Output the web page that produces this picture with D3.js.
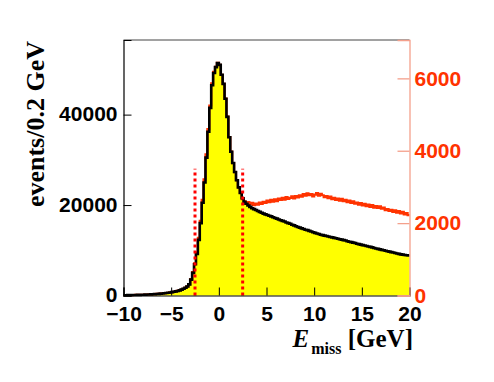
<!DOCTYPE html>
<html>
<head>
<meta charset="utf-8">
<script src="https://cdn.jsdelivr.net/npm/d3@7"></script>
<style>
  body { margin: 0; background: #fff; }
  .tick text { font-family: "Liberation Sans", Arial, sans-serif; font-weight: bold; font-size: 21px; }
  .ttl { font-family: "Liberation Serif", "Times New Roman", serif; font-weight: bold; }
</style>
</head>
<body>
<div id="chart"></div>
<script>
// histogram binning: 150 bins of 0.2 GeV from -10 to 20
var xMin = -10, binWidth = 0.2;

// black histogram (left axis, events/0.2 GeV)
var allEvents = [
  60, 70, 80, 90, 100, 110, 120, 130, 140, 150,
  170, 190, 210, 230, 250, 280, 310, 340, 370, 410,
  450, 500, 550, 610, 670,
  740, 820, 910, 1010, 1130,
  1300, 1480, 1700, 2000, 2450,
  3500, 5000, 6900, 9200, 12300,
  16000, 20500, 25000, 30500, 36200,
  41500, 46500, 49200, 50500, 51400,
  51000, 48800, 46800, 43500, 39500,
  35000, 31800, 29300, 27300, 25500,
  23900, 22700, 21500, 20700, 20300,
  19900, 19600, 19300, 19100, 18900,
  18700, 18500, 18300, 18100, 17950,
  17800, 17650, 17500, 17300, 17150, 17000, 16800, 16650, 16500, 16350,
  16150, 16000, 15850, 15650, 15500, 15300, 15150, 15000, 14850, 14700,
  14550, 14450, 14300, 14150, 14000, 13850, 13700, 13600, 13450, 13350,
  13250, 13150, 13050, 12950, 12850, 12750, 12650, 12550, 12450, 12350,
  12250, 12150, 12000, 11900, 11800, 11700, 11600, 11450, 11350, 11250,
  11150, 11050, 10950, 10850, 10750, 10650, 10500, 10400, 10300, 10200,
  10100, 10000, 9900, 9800, 9700, 9600, 9500, 9400, 9300, 9200,
  9100, 9050, 8950, 8900, 8850
];

// red histogram (right axis)
var selEvents = [
  8, 9, 10, 11, 13, 14, 15, 16, 18, 19,
  21, 24, 26, 29, 31, 35, 39, 43, 46, 51,
  56, 63, 69, 76, 84,
  93, 103, 114, 126, 141,
  163, 185, 213, 250, 306,
  450, 650, 890, 1190, 1590,
  2060, 2640, 3210, 3900, 4600,
  5250, 5860, 6180, 6320, 6430,
  6375, 6100, 5850, 5440, 4940,
  4375, 3975, 3660, 3410, 3190,
  2990, 2840, 2660, 2600, 2540,
  2580, 2520, 2560, 2500, 2540,
  2510, 2570, 2530, 2590, 2560,
  2620, 2580, 2640, 2590, 2660,
  2610, 2680, 2640, 2700, 2650,
  2720, 2670, 2700, 2740, 2680,
  2750, 2710, 2770, 2730, 2800,
  2760, 2820, 2770, 2800, 2740,
  2790, 2830, 2760, 2810, 2770,
  2720, 2750, 2690, 2730, 2660,
  2700, 2640, 2680, 2620, 2670,
  2610, 2640, 2580, 2620, 2560,
  2600, 2540, 2570, 2510, 2550,
  2490, 2530, 2470, 2510, 2450,
  2500, 2430, 2470, 2420, 2460,
  2400, 2430, 2360, 2390, 2340,
  2370, 2310, 2350, 2290, 2330,
  2270, 2310, 2240, 2280, 2220
];

var xTicks = [-10, -5, 0, 5, 10, 15, 20];
var yLeftTicks = [0, 20000, 40000];
var yRightTicks = [0, 2000, 4000, 6000];
var cutValues = [-2.5, 2.5];
var cutHeight = 3500; // right-axis units

var width = 494, height = 382;
var svg = d3.select("#chart").append("svg").attr("width", width).attr("height", height);

var x = d3.scaleLinear().domain([-10, 20]).range([123.5, 409.5]);
var yL = d3.scaleLinear().domain([0, 56500]).range([295.5, 40]);
var yR = d3.scaleLinear().domain([0, 7060]).range([295.5, 40]);

function steps(vals) {
  var pts = vals.map(function(v, i) { return [xMin + i * binWidth, v]; });
  pts.push([xMin + vals.length * binWidth, vals[vals.length - 1]]);
  return pts;
}

var blackPts = steps(allEvents), redPts = steps(selEvents);

// yellow fill
svg.append("path")
  .datum(blackPts)
  .attr("fill", "#ffff00")
  .attr("d", d3.area().curve(d3.curveStepAfter)
    .x(function(d) { return x(d[0]); })
    .y0(yL(0))
    .y1(function(d) { return yL(d[1]); }));

// red histogram
svg.append("path")
  .datum(redPts)
  .attr("fill", "none")
  .attr("stroke", "#ff3300")
  .attr("stroke-width", 2.2)
  .attr("d", d3.line().curve(d3.curveStepAfter)
    .x(function(d) { return x(d[0]); })
    .y(function(d) { return yR(d[1]); }));

// black histogram
svg.append("path")
  .datum(blackPts)
  .attr("fill", "none")
  .attr("stroke", "#000")
  .attr("stroke-width", 2.6)
  .attr("d", d3.line().curve(d3.curveStepAfter)
    .x(function(d) { return x(d[0]); })
    .y(function(d) { return yL(d[1]); }));

// cut lines
svg.selectAll(".cut")
  .data(cutValues)
  .enter()
  .append("line")
  .attr("class", "cut")
  .attr("x1", function(d) { return x(d); })
  .attr("x2", function(d) { return x(d); })
  .attr("y1", yR(0))
  .attr("y2", yR(cutHeight))
  .attr("stroke", "#ff0000")
  .attr("stroke-width", 3)
  .attr("stroke-dasharray", "3,3");

// frame top
svg.append("line")
  .attr("x1", x(-10)).attr("x2", x(20))
  .attr("y1", 40).attr("y2", 40)
  .attr("stroke", "#444").attr("stroke-width", 1);

// bottom axis
var gx = svg.append("g").attr("transform", "translate(0," + yL(0) + ")");
gx.call(d3.axisBottom(x).tickValues(d3.range(-10, 21, 1)).tickSize(-4).tickFormat(""));
gx.call(d3.axisBottom(x).tickValues(xTicks).tickSize(-8).tickPadding(11).tickFormat(d3.format("d")));
gx.selectAll("path.domain").attr("stroke", "#000").attr("stroke-width", 1.2);
gx.selectAll("text").attr("fill", "#000");

// left axis
var gy = svg.append("g").attr("transform", "translate(" + x(-10) + ",0)");
gy.call(d3.axisLeft(yL).tickValues(d3.range(0, 56001, 5000)).tickSize(-4.5).tickFormat(""));
gy.call(d3.axisLeft(yL).tickValues(yLeftTicks).tickSize(-8).tickPadding(6).tickFormat(d3.format("d")));
gy.selectAll("path.domain").attr("stroke", "#000").attr("stroke-width", 1.2);
gy.selectAll("text").attr("fill", "#000").attr("dy", "0.3em");

// right axis
var gr = svg.append("g").attr("transform", "translate(" + x(20) + ",0)");
gr.call(d3.axisRight(yR).tickValues(d3.range(0, 7001, 500)).tickSize(-5.5).tickFormat(""));
gr.call(d3.axisRight(yR).tickValues(yRightTicks).tickSize(-12).tickPadding(5).tickFormat(d3.format("d")));
gr.selectAll("path.domain, line").attr("stroke", "#f4a08c").attr("stroke-width", 1.3);
gr.selectAll("text").attr("fill", "#ff3300");

// axis titles
svg.append("text")
  .attr("class", "ttl")
  .attr("transform", "translate(44,41) rotate(-90)")
  .attr("text-anchor", "end")
  .attr("font-size", 26)
  .text("events/0.2 GeV");

var xt = svg.append("text")
  .attr("class", "ttl")
  .attr("x", 413).attr("y", 347)
  .attr("text-anchor", "end")
  .attr("font-size", 25);
xt.append("tspan").attr("font-style", "italic").text("E");
xt.append("tspan").attr("font-size", 16).attr("dx", 2).attr("dy", 7).text("miss");
xt.append("tspan").attr("dy", -7).text(" [GeV]");
</script>
</body>
</html>
